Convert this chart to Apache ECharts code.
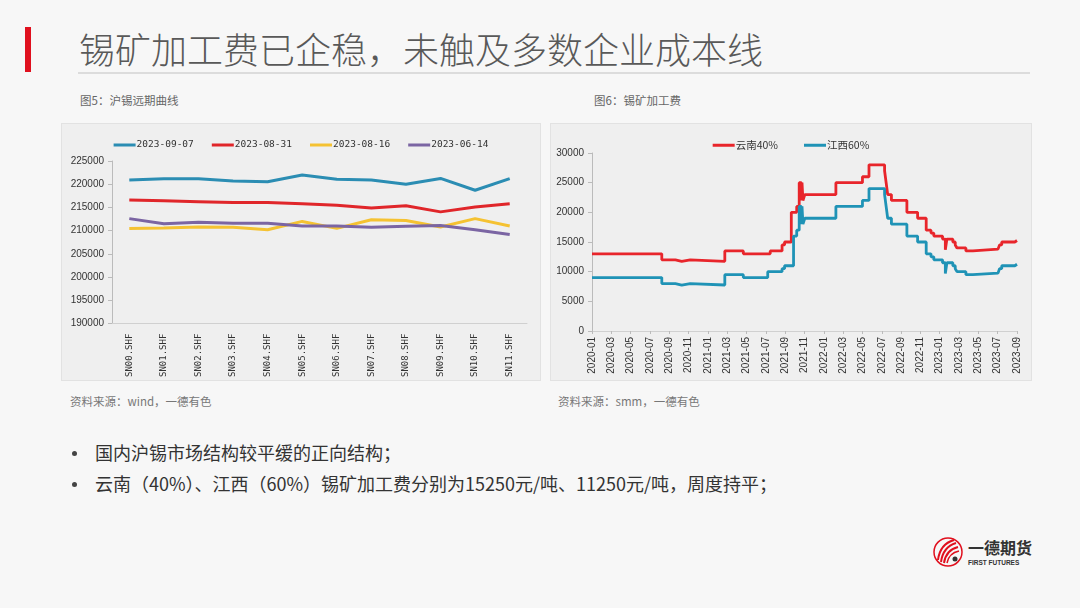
<!DOCTYPE html>
<html>
<head>
<meta charset="utf-8">
<script src="https://cdn.jsdelivr.net/npm/echarts@6/dist/echarts.min.js"></script>
<style>
  body { margin: 0; width: 1080px; height: 608px; background: #f7f7f7; font-family: "Noto Sans CJK SC", "Noto Sans", sans-serif; position: relative; overflow: hidden; }
  .abs { position: absolute; white-space: nowrap; }
  #bar { left: 25px; top: 27px; width: 6px; height: 45px; background: #e0101e; }
  #title { left: 79px; top: 24px; font-size: 36px; color: #595959; font-weight: 300; line-height: 48px; }
  #rule { left: 78px; top: 72px; width: 952px; height: 2px; background: #dcdcdc; }
  .cap { font-size: 11.5px; color: #666; }
  .panel { background: #efefef; border: 1px solid #e2e2e2; }
  .bul { font-size: 18px; color: #333; }
  .dot { width: 5px; height: 5px; border-radius: 50%; background: #444; }
</style>
</head>
<body>
<div class="abs" id="bar"></div>
<div class="abs" id="title">锡矿加工费已企稳，未触及多数企业成本线</div>
<div class="abs" id="rule"></div>

<div class="abs cap" style="left:80px;top:92px;">图5：沪锡远期曲线</div>
<div class="abs cap" style="left:594px;top:92px;">图6：锡矿加工费</div>

<div class="abs panel" id="c1" style="left:61px;top:123px;width:478px;height:256px;"></div>
<div class="abs panel" id="c2" style="left:550px;top:123px;width:480px;height:256px;"></div>

<div class="abs cap" style="left:70px;top:393px;color:#777;">资料来源：wind，一德有色</div>
<div class="abs cap" style="left:558px;top:393px;color:#777;">资料来源：smm，一德有色</div>

<div class="abs dot" style="left:72px;top:451px;"></div>
<div class="abs bul" style="left:95px;top:439px;">国内沪锡市场结构较平缓的正向结构；</div>
<div class="abs dot" style="left:72px;top:482px;"></div>
<div class="abs bul" style="left:95px;top:470px;">云南（40%）、江西（60%）锡矿加工费分别为15250元/吨、11250元/吨，周度持平；</div>

<svg class="abs" style="left:930px;top:534px;" width="110" height="40">
  <circle cx="18" cy="18" r="14" fill="none" stroke="#e0101e" stroke-width="1.5"/>
  <path d="M8 26 Q10 10 24 6" fill="none" stroke="#e0101e" stroke-width="2"/>
  <path d="M11 28 Q13 13 26 9" fill="none" stroke="#e0101e" stroke-width="2"/>
  <path d="M14 29 Q16 16 28 13" fill="none" stroke="#e0101e" stroke-width="2"/>
  <path d="M17 29 Q19 19 29 17" fill="none" stroke="#e0101e" stroke-width="1.5"/>
  <circle cx="25" cy="25" r="2.5" fill="#333"/>
  <text x="38" y="20" font-size="16" font-weight="bold" fill="#333" font-family="Noto Sans CJK SC">一德期货</text>
  <text x="38" y="31" font-size="6.5" font-weight="bold" fill="#333" font-family="Liberation Sans">FIRST FUTURES</text>
</svg>

<script>
// 图5 沪锡远期曲线
var contracts = ['SN00.SHF','SN01.SHF','SN02.SHF','SN03.SHF','SN04.SHF','SN05.SHF','SN06.SHF','SN07.SHF','SN08.SHF','SN09.SHF','SN10.SHF','SN11.SHF'];
var curve0907 = [220900,221200,221200,220700,220550,222000,221050,220900,220000,221250,218700,221200];
var curve0831 = [216600,216450,216250,216050,216050,215800,215500,214900,215350,214050,215100,215800];
var curve0816 = [210500,210600,210800,210750,210200,212000,210500,212350,212200,210800,212600,211000];
var curve0614 = [212600,211500,211800,211600,211600,211000,211000,210750,210950,211100,210200,209200];

// 图6 锡矿加工费（元/吨），变动日期 + 新值
var ynDates = ['2020-01-01','2020-08-08','2020-09-20','2020-10-10','2020-11-06','2021-02-22','2021-04-21','2021-07-15','2021-08-22','2021-08-30','2021-09-20','2021-10-07','2021-10-15','2021-10-22','2021-10-24','2021-10-27','2021-11-02','2022-02-08','2022-05-01','2022-05-22','2022-07-10','2022-07-15','2022-07-20','2022-08-01','2022-09-19','2022-10-23','2022-11-19','2022-12-04','2022-12-13','2023-01-10','2023-01-19','2023-01-24','2023-02-11','2023-02-18','2023-02-23','2023-03-23','2023-04-14','2023-07-02','2023-07-07','2023-07-14','2023-08-25','2023-09-01'];
var ynFees  = [13000,12000,11750,12000,11750,13500,13000,13500,14500,15000,20000,21000,25000,22000,25000,22000,23000,25000,26000,28000,27000,25000,23000,22000,20000,19000,17000,16500,16000,15500,13700,15500,15000,14500,14000,13500,13800,14000,14500,15000,15250,15250];
var jxDates = ['2020-01-01','2020-08-08','2020-09-20','2020-10-10','2020-11-06','2021-02-22','2021-04-21','2021-07-07','2021-08-22','2021-08-30','2021-09-27','2021-10-07','2021-10-15','2021-10-22','2021-10-24','2021-10-27','2021-11-02','2022-02-08','2022-05-01','2022-05-22','2022-07-10','2022-07-15','2022-07-20','2022-08-01','2022-09-19','2022-10-23','2022-11-19','2022-12-04','2022-12-13','2023-01-10','2023-01-19','2023-01-24','2023-02-11','2023-02-18','2023-02-23','2023-03-23','2023-04-14','2023-07-02','2023-07-07','2023-07-14','2023-08-25','2023-09-01'];
var jxFees  = [9000,8000,7750,8000,7750,9500,9000,10000,10500,11000,16000,17000,21000,18000,21000,18000,19000,21000,22000,24000,23000,21000,19000,18000,16000,15000,13000,12500,12000,11500,9700,11500,11000,10500,10000,9500,9750,10000,10500,11000,11250,11250];

// 日期 -> 自2020-01起的月份序号（含月内小数）
function monthIdx(s) {
    var p = s.split('-').map(Number);
    var dim = new Date(p[0], p[1], 0).getDate();
    return (p[0] - 2020) * 12 + (p[1] - 1) + (p[2] - 1) / dim;
}
function monthLabel(v) {
    var y = 2020 + Math.floor(v / 12), m = v % 12 + 1;
    return y + '-' + (m < 10 ? '0' + m : m);
}
function plain(v) { return String(v); }

var axisFont = { fontFamily: 'Liberation Sans', fontSize: 10, color: '#333' };

var c1_option = {
    animation: false,
    legend: {
        top: 11, left: 'center', itemWidth: 22, itemHeight: 3, itemGap: 18,
        icon: 'rect',
        textStyle: { fontFamily: 'DejaVu Sans Mono', fontSize: 9.5, color: '#333', padding: [0, 0, 0, -4] },
        data: ['2023-09-07','2023-08-31','2023-08-16','2023-06-14']
    },
    grid: { left: 50, right: 13, top: 37, bottom: 54 },
    xAxis: {
        type: 'category', data: contracts, boundaryGap: true,
        axisLine: { lineStyle: { color: '#d0d0d0' } },
        axisTick: { show: false },
        axisLabel: { rotate: 90, interval: 0, margin: 10, fontFamily: 'DejaVu Sans Mono', fontSize: 9, color: '#333' }
    },
    yAxis: {
        type: 'value', min: 190000, max: 225000, interval: 5000,
        axisLine: { show: true, lineStyle: { color: '#bbb' } },
        axisTick: { show: true, inside: false, length: 4, lineStyle: { color: '#bbb' } },
        splitLine: { show: false },
        axisLabel: Object.assign({ margin: 8, formatter: plain }, axisFont)
    },
    series: [
        { name: '2023-09-07', type: 'line', data: curve0907, showSymbol: false, lineStyle: { width: 3, color: '#2b8db3' }, itemStyle: { color: '#2b8db3' } },
        { name: '2023-08-31', type: 'line', data: curve0831, showSymbol: false, lineStyle: { width: 3, color: '#e0262a' }, itemStyle: { color: '#e0262a' } },
        { name: '2023-08-16', type: 'line', data: curve0816, showSymbol: false, lineStyle: { width: 3, color: '#f5c232' }, itemStyle: { color: '#f5c232' } },
        { name: '2023-06-14', type: 'line', data: curve0614, showSymbol: false, lineStyle: { width: 3, color: '#7b65a3' }, itemStyle: { color: '#7b65a3' } }
    ]
};

var c2_option = {
    animation: false,
    legend: {
        top: 11, left: 'center', itemWidth: 22, itemHeight: 3, itemGap: 26,
        icon: 'rect',
        textStyle: { fontFamily: 'Noto Sans CJK SC', fontSize: 10.5, color: '#333', padding: [0, 0, 0, -4] },
        data: ['云南40%','江西60%']
    },
    grid: { left: 41, right: 14, top: 29, bottom: 49 },
    xAxis: {
        type: 'value', min: 0, max: 44, interval: 2,
        axisLine: { show: true, lineStyle: { color: '#d0d0d0' } },
        axisTick: { show: true, length: 3, lineStyle: { color: '#bbb' } },
        splitLine: { show: false },
        axisLabel: Object.assign({ rotate: 90, margin: 6, formatter: monthLabel, showMaxLabel: true, showMinLabel: true }, axisFont)
    },
    yAxis: {
        type: 'value', min: 0, max: 30000, interval: 5000,
        axisLine: { show: true, lineStyle: { color: '#bbb' } },
        axisTick: { show: true, length: 4, lineStyle: { color: '#bbb' } },
        splitLine: { show: false },
        axisLabel: Object.assign({ margin: 8, formatter: plain }, axisFont)
    },
    series: [
        { name: '云南40%', type: 'line', step: 'end', showSymbol: false,
          data: ynDates.map((d, i) => [monthIdx(d), ynFees[i]]),
          lineStyle: { width: 2.8, color: '#e8252b' }, itemStyle: { color: '#e8252b' } },
        { name: '江西60%', type: 'line', step: 'end', showSymbol: false,
          data: jxDates.map((d, i) => [monthIdx(d), jxFees[i]]),
          lineStyle: { width: 2.8, color: '#1f93b6' }, itemStyle: { color: '#1f93b6' } }
    ]
};

var c1_ec = echarts.init(document.getElementById('c1'));
c1_ec.setOption(c1_option);
var c2_ec = echarts.init(document.getElementById('c2'));
c2_ec.setOption(c2_option);
</script>
</body>
</html>
